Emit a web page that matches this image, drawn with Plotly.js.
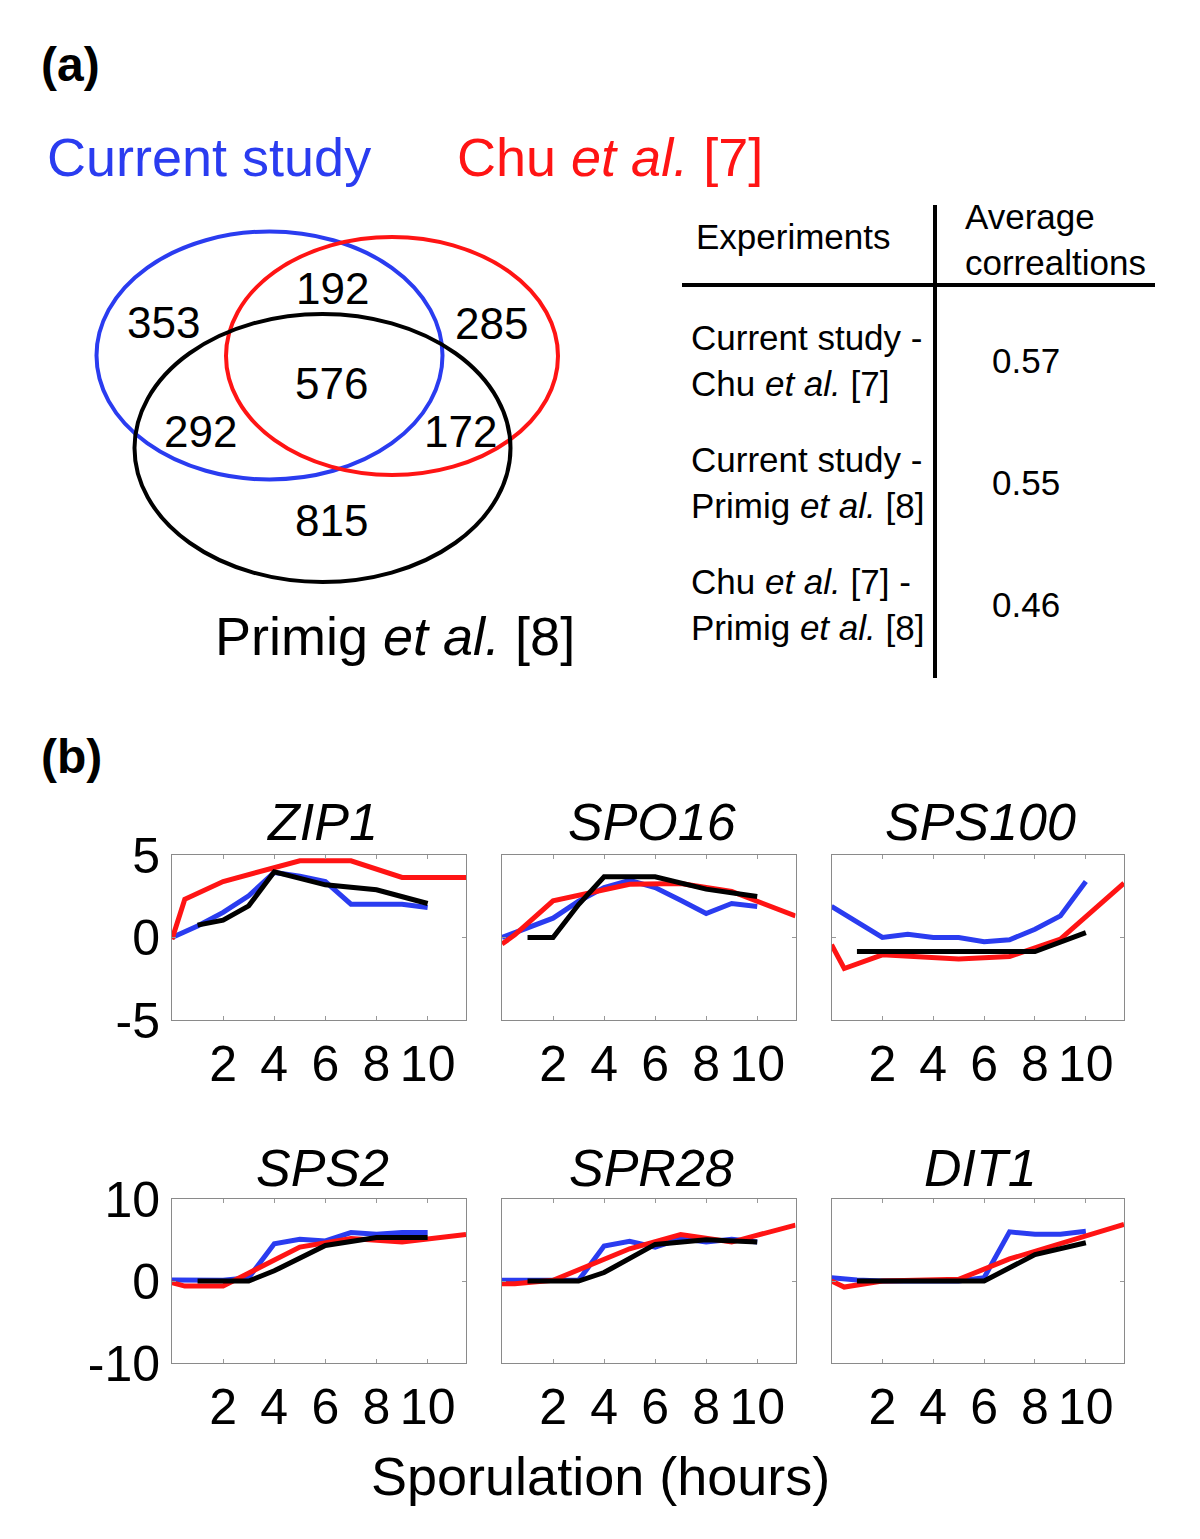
<!DOCTYPE html>
<html>
<head>
<meta charset="utf-8">
<script src="https://cdn.plot.ly/plotly-3.0.1.min.js"></script>
<style>html,body{margin:0;padding:0;background:#fff;}#chart{width:1200px;height:1539px;}</style>
</head>
<body>
<div id="chart"></div>
<script>
// ---------- DATA ----------
// Venn counts
const vennLabels = ["353", "192", "285", "576", "292", "172", "815"];
const vennCounts = [353, 192, 285, 576, 292, 172, 815];
const vennSets = ["Current study", "Chu <i>et al.</i> [7]", "Primig <i>et al.</i> [8]"];

// Correlation table
const tableHeader = ["Experiments", "Average<br>correaltions"];
const tablePairs = [
  "Current study -<br>Chu <i>et al.</i> [7]",
  "Current study -<br>Primig <i>et al.</i> [8]",
  "Chu <i>et al.</i> [7] -<br>Primig <i>et al.</i> [8]"
];
const tableCorr = [0.57, 0.55, 0.46];

// Time courses (hours)
const tCurrent = [0, 1, 2, 3, 4, 5, 6, 7, 8, 9, 10];
const tChu = [0, 0.5, 2, 5, 7, 9, 11.5];
const tPrimig = [1, 2, 3, 4, 6, 8, 10];

const genes = ["ZIP1", "SPO16", "SPS100", "SPS2", "SPR28", "DIT1"];

const currentZIP1   = [0, 0.7, 1.52, 2.53, 3.94, 3.72, 3.39, 2.02, 2.02, 2.02, 1.82];
const currentSPO16  = [0, 0.57, 1.17, 2.2, 3.03, 3.47, 3.03, 2.26, 1.45, 2.06, 1.88];
const currentSPS100 = [1.88, 0.95, 0, 0.2, 0, 0, -0.26, -0.14, 0.5, 1.31, 3.39];
const currentSPS2   = [0.12, 0.12, 0.1, 0.4, 4.55, 5.08, 4.88, 5.9, 5.7, 5.9, 5.9];
const currentSPR28  = [0.08, 0.08, 0.08, 0.08, 4.26, 4.83, 4.13, 5.17, 4.75, 5.08, 4.75];
const currentDIT1   = [0.41, 0.12, 0, 0, 0, 0, 0.41, 5.99, 5.7, 5.7, 6.07];

const chuZIP1   = [-0.1, 2.32, 3.39, 4.65, 4.65, 3.64, 3.64];
const chuSPO16  = [-0.4, 0.16, 2.22, 3.23, 3.27, 2.79, 1.31];
const chuSPS100 = [-0.44, -1.88, -1.05, -1.31, -1.15, -0.1, 3.29];
const chuSPS2   = [-0.2, -0.62, -0.62, 4.13, 5.17, 4.75, 5.66];
const chuSPR28  = [-0.33, -0.33, 0.08, 3.93, 5.66, 4.75, 6.82];
const chuDIT1   = [0, -0.74, 0, 0.2, 2.69, 4.55, 6.9];

const primigZIP1   = [0.75, 1.05, 1.92, 3.98, 3.19, 2.89, 2.06];
const primigSPO16  = [0, 0, 2.0, 3.68, 3.68, 2.93, 2.48];
const primigSPS100 = [-0.85, -0.85, -0.85, -0.85, -0.85, -0.85, 0.3];
const primigSPS2   = [0, 0, 0, 1.24, 4.34, 5.29, 5.29];
const primigSPR28  = [0, 0, 0, 1.03, 4.46, 5.04, 4.75];
const primigDIT1   = [0, 0, 0, 0, 0, 3.22, 4.67];

const xTicks = [2, 4, 6, 8, 10];
const yTicksTop = [-5, 0, 5];
const yTicksBottom = [-10, 0, 10];
const xLabel = "Sporulation (hours)";

// ---------- LAYOUT HELPERS ----------
const W = 1200, H = 1539;
const px = x => x / W;
const py = y => 1 - y / H;
const FONT = "Liberation Sans, Arial, Helvetica, sans-serif";
const BLUE = "#2a3cf0", RED = "#ff1414", BLACK = "#000000";

const currentSeries = [currentZIP1, currentSPO16, currentSPS100, currentSPS2, currentSPR28, currentDIT1];
const chuSeries = [chuZIP1, chuSPO16, chuSPS100, chuSPS2, chuSPR28, chuDIT1];
const primigSeries = [primigZIP1, primigSPO16, primigSPS100, primigSPS2, primigSPR28, primigDIT1];

const colPx = [[172, 466], [502, 795.5], [831.5, 1124]];
const rowPx = [[855, 1020], [1199, 1363]];

const traces = [];
const layout = {
  width: W, height: H,
  margin: {l: 0, r: 0, t: 0, b: 0},
  paper_bgcolor: "#ffffff",
  plot_bgcolor: "#ffffff",
  showlegend: false,
  font: {family: FONT, color: "#000"},
  annotations: [],
  shapes: []
};

genes.forEach((g, i) => {
  const r = Math.floor(i / 3), c = i % 3;
  const n = i + 1;
  const xa = "x" + (n === 1 ? "" : n), ya = "y" + (n === 1 ? "" : n);
  const xk = "xaxis" + (n === 1 ? "" : n), yk = "yaxis" + (n === 1 ? "" : n);
  const lw = 5;
  traces.push({x: tCurrent, y: currentSeries[i], type: "scatter", mode: "lines", line: {color: BLUE, width: lw}, xaxis: xa, yaxis: ya, name: "Current study"});
  traces.push({x: tChu, y: chuSeries[i], type: "scatter", mode: "lines", line: {color: RED, width: lw}, xaxis: xa, yaxis: ya, name: "Chu et al."});
  traces.push({x: tPrimig, y: primigSeries[i], type: "scatter", mode: "lines", line: {color: BLACK, width: lw}, xaxis: xa, yaxis: ya, name: "Primig et al."});
  layout[xk] = {
    domain: [px(colPx[c][0]), px(colPx[c][1])],
    anchor: ya,
    range: [0, 11.5],
    tickvals: xTicks,
    ticktext: xTicks.map(String),
    ticks: "inside", ticklen: 4, tickcolor: "#999",
    showline: true, linecolor: "#8a8a8a", linewidth: 1, mirror: "ticks",
    showgrid: false, zeroline: false, fixedrange: true,
    tickfont: {size: 50, family: FONT, color: "#000"},
    ticklabelstandoff: 0
  };
  layout[yk] = {
    domain: [py(rowPx[r][1]), py(rowPx[r][0])],
    anchor: xa,
    range: r === 0 ? [-5, 5] : [-10, 10],
    tickvals: r === 0 ? yTicksTop : yTicksBottom,
    ticktext: (r === 0 ? yTicksTop : yTicksBottom).map(String),
    showticklabels: c === 0,
    ticks: "inside", ticklen: 4, tickcolor: "#999",
    showline: true, linecolor: "#8a8a8a", linewidth: 1, mirror: "ticks",
    showgrid: false, zeroline: false, fixedrange: true,
    tickfont: {size: 50, family: FONT, color: "#000"},
    ticklabelstandoff: 1
  };
  // panel title (italic gene name)
  layout.annotations.push({
    text: "<i>" + g + "</i>", xref: "paper", yref: "paper",
    x: px((colPx[c][0] + colPx[c][1]) / 2 + 3), y: py(r === 0 ? 822 : 1168),
    xanchor: "center", yanchor: "middle", showarrow: false,
    font: {size: 52, family: FONT, color: "#000"}
  });
});

// x-axis label
layout.annotations.push({
  text: xLabel, xref: "paper", yref: "paper", x: px(600), y: py(1476),
  xanchor: "center", yanchor: "middle", showarrow: false,
  font: {size: 54, family: FONT, color: "#000"}
});

// panel letters
[["(a)", 65], ["(b)", 757]].forEach(([t, yy]) => {
  layout.annotations.push({
    text: "<b>" + t + "</b>", xref: "paper", yref: "paper", x: px(39), y: py(yy),
    xanchor: "left", yanchor: "middle", showarrow: false,
    font: {size: 48, family: FONT, color: "#000"}
  });
});

// ---------- VENN ----------
const ellipses = [
  {cx: 269.5, cy: 355.5, rx: 173, ry: 124, color: BLUE},
  {cx: 392, cy: 356, rx: 166, ry: 119, color: RED},
  {cx: 322.5, cy: 448, rx: 188, ry: 134, color: BLACK}
];
ellipses.forEach(e => {
  layout.shapes.push({
    type: "circle", xref: "paper", yref: "paper",
    x0: px(e.cx - e.rx), x1: px(e.cx + e.rx),
    y0: py(e.cy + e.ry), y1: py(e.cy - e.ry),
    line: {color: e.color, width: 4}
  });
});
const vennPos = [[163, 322], [332, 288], [492, 323], [331, 383], [200, 431], [460, 431], [331, 521]];
vennLabels.forEach((lab, i) => {
  layout.annotations.push({
    text: lab, xref: "paper", yref: "paper", x: px(vennPos[i][0]), y: py(vennPos[i][1]),
    xanchor: "center", yanchor: "middle", showarrow: false,
    font: {size: 44, family: FONT, color: "#000"}
  });
});
const setPos = [[45, 157, BLUE], [455, 157, RED], [213, 636, BLACK]];
vennSets.forEach((s, i) => {
  layout.annotations.push({
    text: s, xref: "paper", yref: "paper", x: px(setPos[i][0]), y: py(setPos[i][1]),
    xanchor: "left", yanchor: "middle", showarrow: false,
    font: {size: 54, family: FONT, color: setPos[i][2]}
  });
});

// ---------- TABLE ----------
layout.shapes.push({type: "line", xref: "paper", yref: "paper", x0: px(935), x1: px(935), y0: py(205), y1: py(678), line: {color: "#000", width: 4}});
layout.shapes.push({type: "line", xref: "paper", yref: "paper", x0: px(682), x1: px(1155), y0: py(285), y1: py(285), line: {color: "#000", width: 4}});
layout.annotations.push({
  text: tableHeader[0], xref: "paper", yref: "paper", x: px(694), y: py(236),
  xanchor: "left", yanchor: "middle", showarrow: false,
  font: {size: 35, family: FONT, color: "#000"}
});
layout.annotations.push({
  text: tableHeader[1], xref: "paper", yref: "paper", x: px(963), y: py(239),
  xanchor: "left", yanchor: "middle", align: "left", showarrow: false,
  font: {size: 35, family: FONT, color: "#000"}
});
const rowY = [361, 482, 604];
tablePairs.forEach((t, i) => {
  layout.annotations.push({
    text: t, xref: "paper", yref: "paper", x: px(689), y: py(rowY[i]),
    xanchor: "left", yanchor: "middle", align: "left", showarrow: false,
    font: {size: 35, family: FONT, color: "#000"}
  });
  layout.annotations.push({
    text: tableCorr[i].toFixed(2), xref: "paper", yref: "paper", x: px(1026), y: py(rowY[i]),
    xanchor: "center", yanchor: "middle", showarrow: false,
    font: {size: 35, family: FONT, color: "#000"}
  });
});

Plotly.newPlot("chart", traces, layout, {displayModeBar: false, staticPlot: true});
</script>
</body>
</html>
